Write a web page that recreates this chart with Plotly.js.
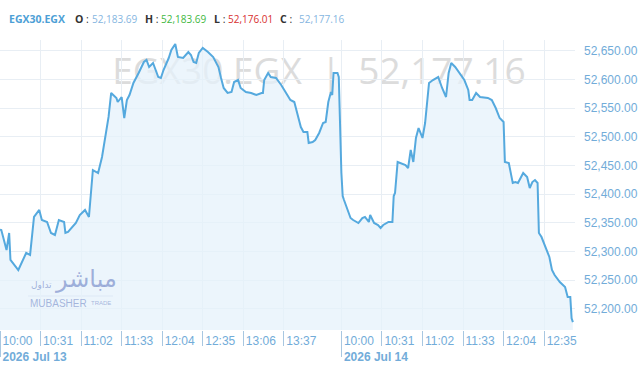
<!DOCTYPE html>
<html>
<head>
<meta charset="utf-8">
<script src="https://cdn.plot.ly/plotly-3.0.1.min.js"></script>
<style>html,body{margin:0;padding:0;background:#fff;}#chart{width:640px;height:366px;}</style>
</head>
<body>
<div id="chart"></div>
<script>
// ---- data ----
const symbol = 'EGX30.EGX';
const day1 = '2026-07-13';
const day2 = '2026-07-14';
const dayLabels = ['2026 Jul 13', '2026 Jul 14'];

const times1 = ['10:00','10:01','10:05','10:07','10:08','10:10','10:14','10:20','10:23','10:26','10:30','10:32','10:36','10:39','10:42','10:45','10:49','10:50','10:52','10:58',
 '11:01','11:05','11:08','11:11','11:15','11:18','11:20','11:23','11:25','11:29','11:30','11:33','11:35','11:37','11:39','11:42','11:46','11:50','11:52','11:54','11:57',
 '12:01','12:03','12:05','12:09','12:11','12:14','12:16','12:20','12:24','12:26','12:28','12:30','12:32','12:35','12:39','12:43','12:47','12:49','12:51','12:54','12:57','12:59',
 '13:02','13:04','13:08','13:12','13:16','13:20','13:21','13:22','13:25','13:27','13:31','13:35','13:39','13:42','13:45','13:48','13:50','13:52','13:55','13:56','13:59',
 '14:01','14:04','14:07','14:09','14:11','14:13','14:14','14:15','14:18','14:19'];
const values1 = [52338.0,52337.6,52302.8,52332.4,52285.4,52280.1,52267.9,52297.6,52294.1,52360.3,52372.5,52355.0,52351.6,52332.4,52328.9,52355.0,52351.6,52332.4,52334.1,52349.8,
 52363.7,52372.5,52360.3,52442.1,52436.9,52464.8,52494.4,52534.5,52576.3,52567.6,52560.6,52569.3,52532.7,52564.1,52572.8,52593.7,52611.1,52630.3,52633.8,52621.6,52628.5,
 52604.1,52602.4,52616.3,52637.2,52651.2,52661.6,52639.0,52637.2,52647.7,52642.5,52630.3,52628.5,52646.0,52654.7,52647.7,52639.0,52621.6,52602.4,52585.0,52576.3,52578.0,52595.4,
 52598.9,52585.0,52578.0,52576.3,52572.8,52576.3,52576.3,52598.9,52611.1,52604.1,52602.4,52590.2,52576.3,52564.1,52560.6,52534.5,52517.0,52508.3,52508.3,52489.2,52490.9,
 52494.4,52506.6,52524.0,52525.8,52560.6,52578.0,52572.8,52611.1,52611.1,52604.1];

const times2 = ['10:00','10:01','10:02','10:05','10:07','10:09','10:13','10:16','10:18','10:21','10:22','10:25','10:28','10:30','10:32','10:36','10:39','10:40','10:41','10:43','10:45','10:49','10:51','10:53','10:55','10:57','10:59',
 '11:02','11:04','11:07','11:10','11:14','11:17','11:20','11:22','11:24','11:27','11:30','11:34','11:37','11:38','11:40','11:43','11:46','11:52','11:55','11:58',
 '12:01','12:04','12:05','12:08','12:11','12:13','12:15','12:19','12:22','12:24','12:26','12:28','12:30','12:31','12:33','12:36','12:39','12:41','12:43','12:47','12:51','12:53','12:55','12:56','12:57'];
const values2 = [52436.9,52396.8,52389.9,52372.5,52358.5,52355.0,52349.8,52358.5,52360.3,52351.6,52363.7,52349.8,52346.3,52341.1,52346.3,52351.6,52351.6,52396.8,52402.1,52456.1,52454.3,52450.8,52445.6,52477.0,52456.1,52497.9,52515.3,
 52497.9,52524.0,52593.7,52598.9,52604.1,52585.0,52569.3,52611.1,52628.5,52621.6,52611.1,52598.9,52581.5,52564.1,52564.1,52576.3,52569.3,52567.6,52564.1,52550.1,
 52532.7,52525.8,52456.1,52454.3,52419.5,52421.2,52419.5,52436.9,52429.9,52410.8,52421.2,52424.7,52419.5,52332.4,52325.4,52306.3,52290.6,52267.9,52259.2,52247.0,52238.3,52220.9,52220.9,52183.69,52177.16];

const tickTimes1 = ['10:00','10:31','11:02','11:33','12:04','12:35','13:06','13:37'];
const tickTimes2 = ['10:00','10:31','11:02','11:33','12:04','12:35'];

const ohlcLabels = ['O','H','L','C'];
const ohlcValues = [52183.69, 52183.69, 52176.01, 52177.16];

// ---- build ----
const x = times1.map(t => day1 + ' ' + t).concat(times2.map(t => day2 + ' ' + t));
const y = values1.concat(values2);

const tickvals = tickTimes1.map(t => day1 + ' ' + t).concat(tickTimes2.map(t => day2 + ' ' + t));
const ticktext = tickTimes1.map((t, i) => i === 0 ? t + '<br><b>' + dayLabels[0] + '</b>' : t)
  .concat(tickTimes2.map((t, i) => i === 0 ? t + '<br><b>' + dayLabels[1] + '</b>' : t));

const breaks = [{pattern: 'hour', bounds: [14.35, 10]}];
const xRange = [day1 + ' 10:00', day2 + ' 12:58:36'];

const lineColor = '#55a9de';
const fmt = v => v.toLocaleString('en-US', {minimumFractionDigits: 2, maximumFractionDigits: 2});

const traces = [
  {
    x: x, y: y, type: 'scatter', mode: 'lines',
    line: {color: lineColor, width: 2},
    fill: 'tozeroy', fillcolor: 'rgba(230,242,251,0.75)',
    hoverinfo: 'skip', showlegend: false
  },
  {
    x: x, y: y, type: 'scatter', mode: 'lines', xaxis: 'x2',
    line: {color: 'rgba(0,0,0,0)', width: 0}, opacity: 0,
    hoverinfo: 'skip', showlegend: false
  }
];

const labelFont = {family: 'Arial, "Liberation Sans", sans-serif', size: 12, color: '#72acd9'};
const gridColor = '#e8eef4';
const tickColor = '#a8c7e1';

const ohlcColors = ['#86b6df', '#3fb83f', '#d8302f', '#86b6df'];
const ohlcLabelX = [73, 143, 212, 278];
const ohlcValueX = [90, 159, 226, 297];
const W = 575, TOP = 40, H = 290;
const px = v => v / W;
const py = v => (TOP + H - v) / H;

const headerFont = {family: '"Open Sans", sans-serif', size: 10.5, color: '#333'};
const annotations = [
  {xref: 'paper', yref: 'paper', x: px(7), y: py(19), xanchor: 'left', yanchor: 'middle', showarrow: false,
   text: '<b>' + symbol + '</b>', font: {family: '"Open Sans", sans-serif', size: 10.5, color: '#4d9fd6'}}
];
ohlcLabels.forEach((l, i) => {
  annotations.push({xref: 'paper', yref: 'paper', x: px(ohlcLabelX[i]), y: py(19), xanchor: 'left', yanchor: 'middle', showarrow: false,
    text: '<b>' + l + '</b> :', font: headerFont});
  annotations.push({xref: 'paper', yref: 'paper', x: px(ohlcValueX[i]), y: py(19), xanchor: 'left', yanchor: 'middle', showarrow: false,
    text: fmt(ohlcValues[i]), font: {family: '"Open Sans", sans-serif', size: 10, color: ohlcColors[i]}});
});
// Mubasher logo watermark
const logoColor = 'rgba(128,148,205,0.72)';
annotations.push({xref: 'paper', yref: 'paper', x: px(86), y: py(279), xanchor: 'center', yanchor: 'middle', showarrow: false,
  text: 'مباشر', font: {family: '"DejaVu Sans", sans-serif', size: 24, color: logoColor}});
annotations.push({xref: 'paper', yref: 'paper', x: px(41), y: py(285), xanchor: 'center', yanchor: 'middle', showarrow: false,
  text: 'تداول', font: {family: '"DejaVu Sans", sans-serif', size: 9, color: logoColor}});
annotations.push({xref: 'paper', yref: 'paper', x: px(58), y: py(303), xanchor: 'center', yanchor: 'middle', showarrow: false,
  text: 'MUBASHER', font: {family: '"Liberation Sans", Arial, sans-serif', size: 10, color: 'rgba(140,160,210,0.75)'}});
annotations.push({xref: 'paper', yref: 'paper', x: px(101), y: py(303), xanchor: 'center', yanchor: 'middle', showarrow: false,
  text: 'TRADE', font: {family: '"Liberation Sans", Arial, sans-serif', size: 6, color: 'rgba(140,160,210,0.75)'}});

const wmFont = {family: '"Open Sans", sans-serif', size: 37, color: '#dcdcdc'};
const wmParts = [[symbol, 207], ['|', 331], [fmt(ohlcValues[3]), 442]];
const shapes = wmParts.map(p => ({
  type: 'rect', xref: 'paper', yref: 'paper', layer: 'below',
  x0: px(p[1]) - 0.2, x1: px(p[1]) + 0.2, y0: py(72) - 0.06, y1: py(72) + 0.06,
  line: {width: 0}, fillcolor: 'rgba(0,0,0,0)',
  label: {text: p[0], font: wmFont, textposition: 'middle center'}
}));
shapes.push({type: 'line', xref: 'paper', yref: 'paper', layer: 'below',
  x0: px(28), x1: px(113), y0: py(296), y1: py(296), line: {color: 'rgba(150,165,210,0.5)', width: 1}});

const layout = {
  width: 640, height: 366,
  margin: {l: 0, r: 65, t: 40, b: 36, pad: 0},
  paper_bgcolor: '#ffffff', plot_bgcolor: '#ffffff',
  showlegend: false,
  xaxis: {
    type: 'date', range: xRange, rangebreaks: breaks,
    tickmode: 'array', tickvals: tickvals, ticktext: ticktext,
    tickangle: 0,
    ticks: 'outside', ticklen: 15, tickcolor: tickColor, tickwidth: 1,
    ticklabelposition: 'outside right', ticklabelstandoff: 0, ticklabelshift: 2,
    tickfont: labelFont,
    showgrid: true, gridcolor: gridColor, gridwidth: 1,
    showline: false, zeroline: false, fixedrange: true
  },
  xaxis2: {
    type: 'date', overlaying: 'x', matches: 'x', range: xRange, rangebreaks: breaks,
    tickmode: 'array', tickvals: [day1 + ' 10:00', day2 + ' 10:00'],
    ticks: 'outside', ticklen: 26, tickcolor: tickColor, tickwidth: 1,
    showticklabels: false, showgrid: false, showline: false, zeroline: false, fixedrange: true
  },
  yaxis: {
    side: 'right', range: [52163.4, 52668.6],
    tick0: 52200, dtick: 50, tickformat: ',.2f',
    tickfont: labelFont, ticks: '', ticklabelstandoff: 8,
    showgrid: true, gridcolor: gridColor, gridwidth: 1,
    showline: false, zeroline: false, fixedrange: true
  },
  annotations: annotations,
  shapes: shapes
};

Plotly.newPlot('chart', traces, layout, {displayModeBar: false, staticPlot: true});
</script>
</body>
</html>
